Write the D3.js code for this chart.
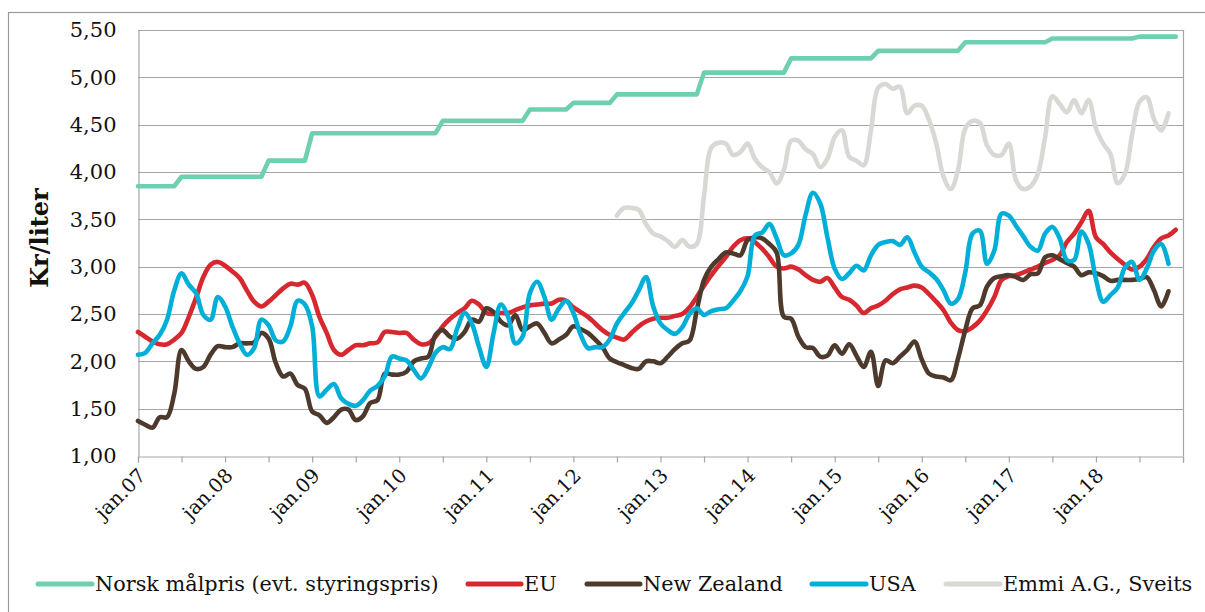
<!DOCTYPE html>
<html>
<head>
<meta charset="utf-8">
<script src="https://cdn.jsdelivr.net/npm/d3@7"></script>
<style>
  html, body { margin: 0; padding: 0; background: #fff; }
  svg { display: block; }
  text { font-family: "DejaVu Serif", "Liberation Serif", serif; fill: #111; }
</style>
</head>
<body>
<svg id="chart" width="1205" height="612"></svg>
<script>
// ---------------- DATA (monthly, jan.07 = index 0) ----------------
const xTickLabels = ["jan.07","jan.08","jan.09","jan.10","jan.11","jan.12","jan.13","jan.14","jan.15","jan.16","jan.17","jan.18"];
const yTicks = [1.0,1.5,2.0,2.5,3.0,3.5,4.0,4.5,5.0,5.5];
const yTickLabels = ["1,00","1,50","2,00","2,50","3,00","3,50","4,00","4,50","5,00","5,50"];
const seriesNames = ["Norsk målpris (evt. styringspris)","EU","New Zealand","USA","Emmi A.G., Sveits"];

const norsk = [
3.85,3.85,3.85,3.85,3.85,3.85,3.95,3.95,3.95,3.95,3.95,3.95,
3.95,3.95,3.95,3.95,3.95,3.95,4.12,4.12,4.12,4.12,4.12,4.12,
4.41,4.41,4.41,4.41,4.41,4.41,4.41,4.41,4.41,4.41,4.41,4.41,
4.41,4.41,4.41,4.41,4.41,4.41,4.54,4.54,4.54,4.54,4.54,4.54,
4.54,4.54,4.54,4.54,4.54,4.54,4.66,4.66,4.66,4.66,4.66,4.66,
4.73,4.73,4.73,4.73,4.73,4.73,4.82,4.82,4.82,4.82,4.82,4.82,
4.82,4.82,4.82,4.82,4.82,4.82,5.05,5.05,5.05,5.05,5.05,5.05,
5.05,5.05,5.05,5.05,5.05,5.05,5.20,5.20,5.20,5.20,5.20,5.20,
5.20,5.20,5.20,5.20,5.20,5.20,5.28,5.28,5.28,5.28,5.28,5.28,
5.28,5.28,5.28,5.28,5.28,5.28,5.37,5.37,5.37,5.37,5.37,5.37,
5.37,5.37,5.37,5.37,5.37,5.37,5.41,5.41,5.41,5.41,5.41,5.41,
5.41,5.41,5.41,5.41,5.41,5.41,5.43,5.43,5.43,5.43,5.43,5.43
];

const eu = [
2.31,2.26,2.21,2.18,2.18,2.23,2.30,2.47,2.67,2.89,3.02,3.05,
3.01,2.95,2.88,2.75,2.63,2.58,2.63,2.70,2.77,2.82,2.81,2.83,
2.70,2.47,2.30,2.12,2.07,2.12,2.17,2.17,2.19,2.20,2.31,2.31,
2.30,2.30,2.23,2.18,2.19,2.26,2.37,2.45,2.51,2.56,2.64,2.60,
2.51,2.50,2.51,2.51,2.54,2.57,2.59,2.60,2.61,2.61,2.65,2.64,
2.57,2.52,2.47,2.40,2.33,2.28,2.25,2.23,2.30,2.37,2.42,2.45,
2.46,2.46,2.48,2.50,2.57,2.68,2.80,2.91,3.01,3.10,3.21,3.28,
3.30,3.26,3.19,3.10,3.00,2.98,3.00,2.97,2.91,2.86,2.84,2.88,
2.78,2.68,2.65,2.59,2.51,2.56,2.59,2.64,2.71,2.76,2.78,2.80,
2.78,2.71,2.63,2.54,2.41,2.33,2.32,2.36,2.43,2.54,2.68,2.86,
2.90,2.91,2.94,2.97,3.00,3.04,3.07,3.12,3.26,3.35,3.47,3.59,
3.31,3.24,3.15,3.08,3.02,2.97,3.00,3.08,3.21,3.30,3.33,3.39
];

const newZealand = [
1.37,1.33,1.30,1.41,1.41,1.66,2.12,2.00,1.92,1.94,2.07,2.16,
2.15,2.15,2.19,2.19,2.20,2.30,2.24,1.98,1.84,1.87,1.75,1.71,
1.47,1.43,1.35,1.41,1.49,1.49,1.38,1.42,1.56,1.59,1.87,1.86,
1.86,1.89,2.00,2.03,2.05,2.28,2.33,2.26,2.24,2.31,2.44,2.42,
2.56,2.52,2.42,2.38,2.49,2.33,2.37,2.40,2.30,2.19,2.23,2.28,
2.37,2.34,2.30,2.23,2.15,2.03,1.99,1.96,1.93,1.92,2.00,2.00,
1.98,2.05,2.13,2.19,2.22,2.54,2.86,3.00,3.08,3.15,3.14,3.12,
3.28,3.31,3.30,3.24,3.15,2.47,2.45,2.26,2.15,2.14,2.05,2.06,
2.17,2.08,2.18,2.06,1.94,2.10,1.74,2.01,1.98,2.05,2.12,2.21,
2.02,1.87,1.84,1.83,1.80,2.03,2.33,2.56,2.59,2.79,2.88,2.90,
2.91,2.89,2.86,2.92,2.93,3.10,3.12,3.08,3.04,3.00,2.91,2.94,
2.93,2.90,2.85,2.86,2.86,2.86,2.87,2.89,2.75,2.58,2.74,null
];

const usa = [
2.07,2.09,2.19,2.28,2.44,2.75,2.93,2.81,2.72,2.49,2.44,2.68,
2.58,2.37,2.19,2.07,2.14,2.44,2.38,2.22,2.21,2.37,2.64,2.60,
2.37,1.63,1.70,1.76,1.61,1.55,1.53,1.59,1.69,1.74,1.84,2.05,
2.03,2.01,1.91,1.82,1.93,2.09,2.15,2.13,2.35,2.51,2.40,2.15,
1.94,2.30,2.60,2.47,2.19,2.26,2.72,2.84,2.68,2.44,2.56,2.64,
2.51,2.28,2.14,2.15,2.15,2.23,2.40,2.51,2.61,2.75,2.89,2.58,
2.40,2.33,2.29,2.36,2.50,2.56,2.49,2.53,2.55,2.56,2.64,2.74,
2.90,3.33,3.36,3.45,3.30,3.12,3.14,3.23,3.55,3.78,3.67,3.31,
2.98,2.87,2.93,3.01,2.96,3.12,3.23,3.26,3.27,3.23,3.31,3.15,
3.00,2.94,2.87,2.75,2.61,2.66,2.94,3.35,3.38,3.03,3.17,3.56,
3.54,3.43,3.32,3.21,3.17,3.35,3.42,3.30,3.07,3.07,3.37,3.24,
2.87,2.63,2.70,2.78,2.99,3.05,2.86,2.98,3.17,3.24,3.03,null
];

const emmi = [
null,null,null,null,null,null,null,null,null,null,null,null,
null,null,null,null,null,null,null,null,null,null,null,null,
null,null,null,null,null,null,null,null,null,null,null,null,
null,null,null,null,null,null,null,null,null,null,null,null,
null,null,null,null,null,null,null,null,null,null,null,null,
null,null,null,null,null,null,3.54,3.62,3.62,3.60,3.45,3.35,
3.32,3.27,3.21,3.28,3.21,3.24,3.75,4.26,4.31,4.30,4.18,4.21,
4.30,4.14,4.05,4.00,3.88,4.02,4.33,4.33,4.24,4.19,4.05,4.14,
4.37,4.44,4.16,4.12,4.07,4.44,4.89,4.93,4.88,4.90,4.62,4.70,
4.70,4.55,4.30,3.95,3.82,4.02,4.46,4.54,4.52,4.28,4.18,4.18,
4.30,3.91,3.82,3.85,3.98,4.37,4.80,4.72,4.63,4.76,4.62,4.76,
4.46,4.30,4.19,3.88,3.98,4.40,4.74,4.79,4.56,4.44,4.62,null
];

const colors = ["#6fcfb1","#d7282f","#4d3a2c","#00afd7","#d8d8d4"];

// ---------------- CHART ----------------
const svg = d3.select("#chart");
const W = 1205, H = 612;
const plot = {left: 138, right: 1183, top: 30, bottom: 456};

svg.append("rect").attr("width", W).attr("height", H).attr("fill", "#fff");
// outer chart border (only top & left visible)
svg.append("rect").attr("x", 8.5).attr("y", 12.5).attr("width", W + 10).attr("height", H + 10)
  .attr("fill", "none").attr("stroke", "#9a9a9a").attr("stroke-width", 1.2);

const nMonths = norsk.length;
const x = d3.scaleLinear().domain([0, nMonths]).range([plot.left, plot.right]);
const y = d3.scaleLinear().domain([1, 5.5]).range([plot.bottom, plot.top]);

// gridlines
svg.append("g").selectAll("line").data(yTicks.filter(d => d > 1)).join("line")
  .attr("x1", plot.left).attr("x2", plot.right)
  .attr("y1", d => Math.round(y(d)) + 0.5).attr("y2", d => Math.round(y(d)) + 0.5)
  .attr("stroke", "#a6a6a6").attr("stroke-width", 1.2);
// right border of plot area
svg.append("line").attr("x1", plot.right + 0.5).attr("x2", plot.right + 0.5)
  .attr("y1", y(5.5)).attr("y2", y(1)).attr("stroke", "#a6a6a6").attr("stroke-width", 1.2);

// y axis
const yAxis = d3.axisLeft(y).tickValues(yTicks).tickSize(0).tickPadding(22)
  .tickFormat((d, i) => yTickLabels[i]);
const gy = svg.append("g").attr("transform", `translate(${plot.left + 0.5},0)`).call(yAxis);
gy.select(".domain").attr("stroke", "#a6a6a6").attr("stroke-width", 1.2);
gy.selectAll("text").attr("font-size", 21).attr("font-family", "DejaVu Serif").attr("fill", "#111");

// x axis
const tickVals = d3.range(0, nMonths + 1, 6);
const xAxis = d3.axisBottom(x).tickValues(tickVals).tickSize(6).tickFormat("");
const gx = svg.append("g").attr("transform", `translate(0,${plot.bottom + 0.5})`).call(xAxis);
gx.select(".domain").attr("stroke", "#a6a6a6").attr("stroke-width", 1.2);
gx.selectAll(".tick line").attr("stroke", "#a6a6a6").attr("stroke-width", 1.2);

svg.append("g").selectAll("text").data(xTickLabels).join("text")
  .attr("transform", (d, i) => `translate(${x(i * 12) + 4},${plot.bottom + 16}) rotate(-45)`)
  .attr("text-anchor", "end").attr("dy", "0.35em")
  .attr("font-size", 19.5)
  .text(d => d);

// y title
svg.append("text")
  .attr("transform", `translate(40,${(plot.top + plot.bottom) / 2 - 5}) rotate(-90)`)
  .attr("text-anchor", "middle").attr("dy", "0.35em")
  .attr("font-size", 24).attr("font-weight", "bold")
  .text("Kr/liter");

// lines
const allSeries = [norsk, eu, newZealand, usa, emmi];
const stepLine = d3.line().defined(d => d != null).x((d, i) => x(i)).y(d => y(d));
const smoothLine = d3.line().defined(d => d != null).x((d, i) => x(i)).y(d => y(d))
  .curve(d3.curveCatmullRom.alpha(0.5));

allSeries.forEach((s, k) => {
  svg.append("path")
    .attr("d", (k === 0 ? stepLine : smoothLine)(s))
    .attr("fill", "none")
    .attr("stroke", colors[k])
    .attr("stroke-width", 4.6)
    .attr("stroke-linejoin", "round")
    .attr("stroke-linecap", "round");
});

// legend
const legendY = 584;
const legendItems = [
  {x0: 38, x1: 92},
  {x0: 468, x1: 521},
  {x0: 587, x1: 640},
  {x0: 812, x1: 866},
  {x0: 946, x1: 1000}
];
const lg = svg.append("g");
seriesNames.forEach((name, k) => {
  const it = legendItems[k];
  lg.append("line").attr("x1", it.x0).attr("x2", it.x1).attr("y1", legendY).attr("y2", legendY)
    .attr("stroke", colors[k]).attr("stroke-width", 5).attr("stroke-linecap", "round");
  lg.append("text").attr("x", it.x1 + 3).attr("y", legendY).attr("dy", "0.35em")
    .attr("font-size", 20.8).text(name);
});
</script>
</body>
</html>
